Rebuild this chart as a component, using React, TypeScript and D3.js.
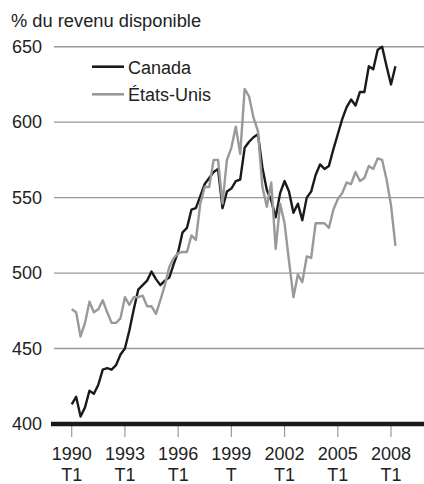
import React from "react";
import * as d3 from "d3";

// quarterly, 1990 T1 .. 2008 T2
const canada = [
  413, 418, 405, 411, 422, 420, 426, 436, 437, 436, 439, 446,
  450, 462, 476, 489, 492, 495, 501, 496, 492, 495, 497, 506,
  514, 527, 530, 542, 543, 551, 559, 563, 567, 569, 543, 554,
  556, 561, 562, 583, 587, 590, 592, 570, 555, 548, 537, 553,
  561, 554, 540, 546, 535, 550, 554, 565, 572, 569, 571, 582,
  592, 602, 610, 615, 611, 620, 620, 637, 635, 648, 650, 637,
  625, 637,
];
const etatsUnis = [
  476, 474, 458, 467, 481, 474, 476, 482, 474, 467, 467, 470,
  484, 479, 484, 484, 485, 478, 478, 473, 482, 492, 504, 510,
  513, 514, 514, 525, 522, 546, 557, 557, 575, 575, 546, 575,
  583, 597, 579, 622, 617, 603, 594, 557, 544, 560, 516, 546,
  533, 508, 484, 499, 494, 511, 510, 533, 533, 533, 530, 542,
  549, 553, 560, 559, 567, 561, 563, 571, 569, 576, 575, 562,
  545, 518,
];
const yTicks = [400, 450, 500, 550, 600, 650];
const xYears = ["1990", "1993", "1996", "1999", "2002", "2005", "2008"];
const xQuarters = ["T1", "T1", "T1", "T", "T1", "T1", "T1"];
const seriesNames = ["Canada", "États-Unis"];

const FONT = "'Liberation Sans', Arial, sans-serif";
const FS = 18;

export default function App() {
  const x = d3.scaleLinear().domain([0, 72]).range([71.7, 391]);
  const y = d3.scaleLinear().domain([400, 650]).range([424, 46.7]);

  const line = d3
    .line<number>()
    .x((_, i) => x(i))
    .y((d) => y(d));

  return (
    <svg
      width={424}
      height={484}
      style={{ position: "absolute", left: 0, top: 0, background: "#fff" }}
      fontFamily={FONT}
    >
      <text x={11} y={27} fontSize={18.3} fill="#222">
        % du revenu disponible
      </text>

      {yTicks.map((t) => (
        <g key={t}>
          {t > 400 && (
            <line x1={54} x2={424} y1={y(t)} y2={y(t)} stroke="#999" strokeWidth={1.4} />
          )}
          <text x={42} y={y(t)} dy="0.35em" textAnchor="end" fontSize={FS} fill="#222">
            {t}
          </text>
        </g>
      ))}

      {xYears.map((yr, k) => (
        <g key={yr} transform={`translate(${x(k * 12)},0)`}>
          <line y1={425} y2={437} stroke="#999" strokeWidth={1.2} />
          <text y={459.5} textAnchor="middle" fontSize={FS} fill="#222">
            {yr}
          </text>
          <text y={481} textAnchor="middle" fontSize={FS} fill="#222">
            {xQuarters[k]}
          </text>
        </g>
      ))}

      <line x1={51} x2={424} y1={y(400)} y2={y(400)} stroke="#1a1a1a" strokeWidth={4.5} />

      <path d={line(canada) ?? ""} fill="none" stroke="#1a1a1a" strokeWidth={2.4} strokeLinejoin="round" />
      <path d={line(etatsUnis) ?? ""} fill="none" stroke="#999" strokeWidth={2.4} strokeLinejoin="round" />

      {seriesNames.map((name, k) => (
        <g key={name} transform={`translate(0,${66.7 + k * 27.6})`}>
          <line x1={92} x2={124} stroke={k === 0 ? "#1a1a1a" : "#999"} strokeWidth={2.6} />
          <text x={128} y={7} fontSize={FS} fill="#222">
            {name}
          </text>
        </g>
      ))}
    </svg>
  );
}
